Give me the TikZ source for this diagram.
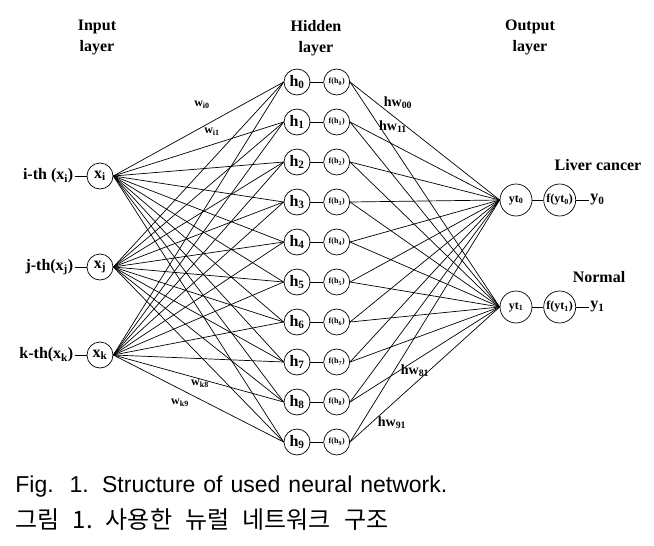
\documentclass[tikz,border=0pt]{standalone}
\usepackage{fontspec}
\setmainfont{Liberation Serif}
\newfontfamily\capfont{Liberation Sans}
\newfontfamily\krfont{Noto Sans CJK KR}
\usetikzlibrary{positioning}

\begin{document}
\begin{tikzpicture}[
        x = 1pt, y = -1pt,
        line width = 0.7pt,
        node distance = 13pt,
        neuron/.style = {shape=circle, draw, minimum size=26pt, inner sep=0pt},
        xnode/.style = {neuron, font=\fontsize{16}{16}\selectfont\bfseries},
        hnode/.style = {neuron, font=\fontsize{16}{16}\selectfont\bfseries},
        fnode/.style = {neuron, font=\fontsize{8}{8}\selectfont\bfseries},
        ynode/.style = {neuron, minimum size=32pt, font=\fontsize{12}{12}\selectfont\bfseries},
        heading/.style = {align=center, font=\fontsize{16}{21}\selectfont\bfseries},
        sidelabel/.style = {inner sep=1pt, font=\fontsize{16}{16}\selectfont\bfseries},
        wlabel/.style = {inner sep=0pt, font=\fontsize{12}{12}\selectfont\bfseries},
        hwlabel/.style = {inner sep=0pt, font=\fontsize{14}{14}\selectfont\bfseries},
        capline/.style = {anchor=west, inner sep=0pt}
    ]
    \useasboundingbox (0,0) rectangle (654,546);
    % layer headings
    \node (inhead)  [heading] at (97,37)  {Input\\layer};
    \node (hidhead) [heading] at (316,38) {Hidden\\layer};
    \node (outhead) [heading] at (530,37) {Output\\layer};
    % input layer
    \node (xi) [xnode] at (100,176) {x\textsubscript{i}};
    \node (xj) [xnode] at (100,267) {x\textsubscript{j}};
    \node (xk) [xnode] at (100,355) {x\textsubscript{k}};
    \node (li) [sidelabel, left=12pt of xi] {i-th (x\textsubscript{i})};
    \node (lj) [sidelabel, left=12pt of xj] {j-th(x\textsubscript{j})};
    \node (lk) [sidelabel, left=12pt of xk] {k-th(x\textsubscript{k})};
    \draw (li) -- (xi);
    \draw (lj) -- (xj);
    \draw (lk) -- (xk);
    % hidden layer
    \foreach \k in {0,...,9} {
        \node (h\k) [hnode] at (297,{82+40*\k}) {h\textsubscript{\k}};
        \node (fh\k) [fnode, right=of h\k] {f(h\textsubscript{\k})};
        \draw (h\k) -- (fh\k);
        \foreach \x in {xi,xj,xk}
            \draw (\x.east) -- (h\k.west);
    }
    % output layer
    \node (yt0) [ynode] at (516,200) {yt\textsubscript{0}};
    \node (yt1) [ynode] at (516,307) {yt\textsubscript{1}};
    \node (fy0) [ynode, right=11pt of yt0] {f(yt\textsubscript{0})};
    \node (fy1) [ynode, right=11pt of yt1] {f(yt\textsubscript{1})};
    \node (y0) [sidelabel, right=13pt of fy0] {y\textsubscript{0}};
    \node (y1) [sidelabel, right=13pt of fy1] {y\textsubscript{1}};
    \draw (yt0) -- (fy0) -- (y0);
    \draw (yt1) -- (fy1) -- (y1);
    \foreach \k in {0,...,9}
        \foreach \o in {yt0,yt1}
            \draw (fh\k.east) -- (\o.west);
    \node (liver)  [sidelabel] at (598,165) {Liver cancer};
    \node (normal) [sidelabel] at (599,277) {Normal};
    % weights
    \node (wi0) [wlabel] at (202,105) {w\textsubscript{i0}};
    \node (wi1) [wlabel] at (212,132) {w\textsubscript{i1}};
    \node (wk8) [wlabel] at (200,384) {w\textsubscript{k8}};
    \node (wk9) [wlabel] at (180,403) {w\textsubscript{k9}};
    \node (hw00) [hwlabel] at (398,103) {hw\textsubscript{00}};
    \node (hw11) [hwlabel] at (393,127) {hw\textsubscript{11}};
    \node (hw81) [hwlabel] at (415,371) {hw\textsubscript{81}};
    \node (hw91) [hwlabel] at (392,423) {hw\textsubscript{91}};
    % caption
    \node (cap1) [capline, font=\capfont\fontsize{23}{23}\selectfont] at (15,487)
        {\makebox[432pt][s]{Fig.\ \ 1. Structure of used neural network.}};
    \node (cap2) [capline, font=\krfont\fontsize{24}{24}\selectfont\frenchspacing] at (15,520)
        {\makebox[373pt][s]{그림 1. 사용한 뉴럴 네트워크 구조}};
\end{tikzpicture}
\end{document}
